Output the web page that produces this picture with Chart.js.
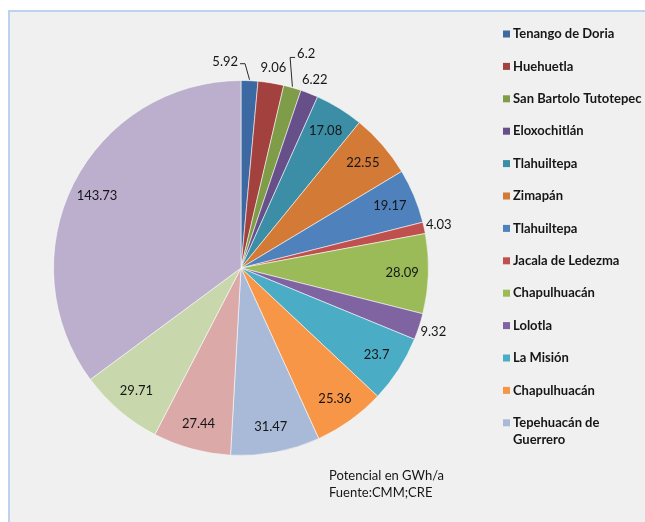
<!DOCTYPE html>
<html>
<head>
<meta charset="utf-8">
<script src="https://cdn.jsdelivr.net/npm/chart.js@4/dist/chart.umd.min.js"></script>
<style>
  html, body { margin: 0; padding: 0; background: #fff; }
  #wrap { position: relative; width: 645px; height: 522px; overflow: hidden; }
</style>
</head>
<body>
<div id="wrap"><canvas id="pie" width="645" height="522"></canvas></div>
<script>
// municipios (the last three are hidden by the cut legend in the source)
const labels = [
  "Tenango de Doria", "Huehuetla", "San Bartolo Tutotepec", "Eloxochitlán",
  "Tlahuiltepa", "Zimapán", "Tlahuiltepa", "Jacala de Ledezma",
  "Chapulhuacán", "Lolotla", "La Misión", "Chapulhuacán",
  "Tepehuacán de Guerrero", "14", "15", "16"
];
const values = [
  5.92, 9.06, 6.2, 6.22, 17.08, 22.55, 19.17, 4.03,
  28.09, 9.32, 23.7, 25.36, 31.47, 27.44, 29.71, 143.73
];
const colors = [
  "#3c69a2", "#a3413e", "#7f9c49", "#674f89", "#3b8ea5", "#d27a36",
  "#4f81bd", "#c0504d", "#9bbb59", "#8064a2", "#4bacc6", "#f79646",
  "#a9b9d8", "#dba9a8", "#c8d7ac", "#bbafcd"
];
const footer = ["Potencial en GWh/a", "Fuente:CMM;CRE"];

const FONT = "Lato, 'Open Sans', sans-serif";
const textColor = "#161616";

const panelBg = {
  id: "panelBg",
  beforeDraw(chart) {
    const c = chart.ctx;
    c.save();
    c.fillStyle = "#ffffff";
    c.fillRect(0, 0, chart.width, chart.height);
    c.fillStyle = "#f0f0f0";
    c.fillRect(8, 10, chart.width, chart.height);
    c.strokeStyle = "#bcd2ee";
    c.lineWidth = 2;
    c.beginPath();
    c.moveTo(9, chart.height);
    c.lineTo(9, 11);
    c.lineTo(chart.width, 11);
    c.stroke();
    c.restore();
  }
};

const overlap = (a, b) =>
  a.l < b.r && a.r > b.l && a.t < b.b && a.b > b.t;

const sliceLabels = {
  id: "sliceLabels",
  afterDatasetsDraw(chart) {
    const c = chart.ctx;
    const meta = chart.getDatasetMeta(0);
    const data = chart.data.datasets[0].data;
    c.save();
    c.font = "13px " + FONT;
    c.fillStyle = textColor;
    c.textAlign = "center";
    c.textBaseline = "middle";
    const h = 17;
    const outside = [];
    meta.data.forEach((arc, i) => {
      const p = arc.getProps(["x", "y", "startAngle", "endAngle", "outerRadius"], true);
      const mid = (p.startAngle + p.endAngle) / 2;
      const txt = String(data[i]);
      if (data[i] >= 10) {
        const r = p.outerRadius * 0.86;
        c.fillText(txt, p.x + Math.cos(mid) * r, p.y + Math.sin(mid) * r);
      } else {
        outside.push({ v: data[i], txt, mid, p, w: c.measureText(txt).width });
      }
    });

    // biggest small slices get the best spot, the rest move aside
    outside.sort((a, b) => b.v - a.v);
    const placed = [];
    const boxAt = (o, x, y) => ({ l: x - o.w / 2 - 1, r: x + o.w / 2 + 1, t: y - h / 2, b: y + h / 2, x, y });
    const hits = (bx) => placed.find(q => overlap(bx, q));
    outside.forEach(o => {
      const { x, y, outerRadius } = o.p;
      const f = 1.08;
      const at = (k) => boxAt(o, x + Math.cos(o.mid) * outerRadius * k, y + Math.sin(o.mid) * outerRadius * k);
      let bx = at(f);
      let mode = null;
      const other = hits(bx);
      if (other) {
        // first try to slide sideways, away from the neighbour
        const dir = other.x > bx.x ? -1 : 1;
        let tryBox = bx;
        for (let s = 1; s <= 20 && hits(tryBox); s++) {
          tryBox = boxAt(o, bx.x + dir * s, bx.y);
        }
        if (!hits(tryBox)) {
          bx = boxAt(o, tryBox.x + dir * 20, tryBox.y - 4);
          if (hits(bx)) bx = tryBox;
          mode = "side";
        } else {
          let k = f;
          while (k < 1.5 && hits(bx)) { k += 0.01; bx = at(k); }
          bx = at(k + 0.04);
          bx = boxAt(o, bx.x + 4, bx.y);
          mode = "out";
        }
      }
      placed.push(bx);
      c.fillText(o.txt, bx.x, bx.y);
      if (mode) {
        const ax = x + Math.cos(o.mid) * outerRadius;
        const ay = y + Math.sin(o.mid) * outerRadius;
        const right = bx.x > ax;
        const sideX = right ? bx.l - 1 : bx.r + 1;
        const elbowX = right ? sideX - 5 : sideX + 5;
        const ly = mode === "side" ? bx.y + 2 : bx.y + 4;
        c.strokeStyle = "#2a2a2a";
        c.lineWidth = 1;
        c.beginPath();
        c.moveTo(ax, ay - 1);
        c.lineTo(elbowX, ly);
        c.lineTo(sideX, ly);
        c.stroke();
      }
    });
    c.restore();
  }
};

const sideLegend = {
  id: "sideLegend",
  afterDraw(chart) {
    const c = chart.ctx;
    const bg = chart.data.datasets[0].backgroundColor;
    c.save();
    c.font = "bold 13px " + FONT;
    c.textBaseline = "middle";
    c.textAlign = "left";
    const x0 = 503, maxW = 140, step = 32.4, lineH = 17, bottom = 458;
    let y = 34;
    chart.data.labels.forEach((name, i) => {
      let lines = [name];
      if (c.measureText(name).width > maxW) {
        const words = name.split(" ");
        lines = [];
        let cur = "";
        words.forEach(wd => {
          const test = cur ? cur + " " + wd : wd;
          if (cur && c.measureText(test).width > maxW) { lines.push(cur); cur = wd; }
          else cur = test;
        });
        lines.push(cur);
      }
      const itemBottom = y + (lines.length - 1) * lineH + 7;
      if (itemBottom > bottom) { y = Infinity; return; }
      c.fillStyle = bg[i];
      c.fillRect(x0, y - 3.5, 7, 7);
      c.fillStyle = textColor;
      lines.forEach((ln, k) => c.fillText(ln, x0 + 10, y + k * lineH));
      y += step + (lines.length - 1) * lineH;
    });

    c.font = "13px " + FONT;
    c.fillStyle = textColor;
    footer.forEach((ln, k) => c.fillText(ln, 329, 476 + k * 17));
    c.restore();
  }
};

new Chart(document.getElementById("pie"), {
  type: "pie",
  data: {
    labels: labels,
    datasets: [{
      data: values,
      backgroundColor: colors,
      borderColor: "rgba(255,255,255,0.55)",
      borderWidth: 1
    }]
  },
  options: {
    responsive: false,
    animation: false,
    layout: { padding: { left: 53, top: 80, right: 216, bottom: 66 } },
    plugins: {
      legend: { display: false },
      tooltip: { enabled: false }
    }
  },
  plugins: [panelBg, sliceLabels, sideLegend]
});
</script>
</body>
</html>
